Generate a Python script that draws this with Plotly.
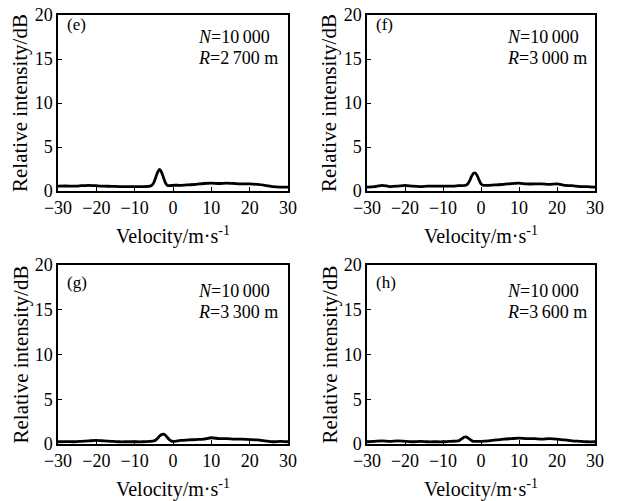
import plotly.graph_objects as go

W, H = 618, 501
OFF = 8  # default page body margin
FW, FH = W - OFF, H - OFF

# ---- data ----
vel_e = [-30,-28,-26,-24,-22,-20,-18,-16,-14,-12,-10,-8,-6,-5.5,-5,-4.5,-4,-3.5,-3,-2.5,-2,-1.5,-1,0,2,4,6,8,10,12,14,16,18,20,22,24,26,28,30]
int_e = [0.55,0.57,0.55,0.6,0.65,0.6,0.55,0.53,0.5,0.5,0.5,0.5,0.55,0.65,0.95,1.55,2.15,2.45,2.15,1.55,0.95,0.65,0.6,0.65,0.65,0.7,0.75,0.85,0.9,0.85,0.9,0.85,0.8,0.8,0.75,0.65,0.5,0.45,0.45]

vel_f = [-30,-28,-26,-24,-22,-20,-18,-16,-14,-12,-10,-8,-6,-4,-3.5,-3,-2.5,-2,-1.5,-1,-0.5,0,0.5,2,4,6,8,10,12,14,16,18,20,22,24,26,28,30]
int_f = [0.45,0.5,0.65,0.5,0.55,0.65,0.55,0.5,0.55,0.55,0.55,0.55,0.6,0.65,0.8,1.15,1.65,2.0,2.05,1.75,1.25,0.8,0.65,0.65,0.7,0.75,0.85,0.9,0.8,0.8,0.8,0.75,0.8,0.65,0.6,0.5,0.5,0.45]

vel_g = [-30,-28,-26,-24,-22,-20,-18,-16,-14,-12,-10,-8,-6,-5,-4.5,-4,-3.5,-3,-2.5,-2,-1.5,-1,-0.5,0,2,4,6,8,10,12,14,16,18,20,22,24,26,28,30]
int_g = [0.25,0.27,0.25,0.3,0.35,0.4,0.35,0.3,0.25,0.25,0.25,0.25,0.3,0.35,0.45,0.65,0.9,1.05,1.1,1.0,0.75,0.5,0.35,0.3,0.4,0.45,0.5,0.55,0.7,0.6,0.6,0.55,0.55,0.5,0.45,0.35,0.25,0.3,0.25]

vel_h = [-30,-28,-26,-24,-22,-20,-18,-16,-14,-12,-10,-8,-6,-5.5,-5,-4.5,-4,-3.5,-3,-2.5,-2,-1,0,2,4,6,8,10,12,14,16,18,20,22,24,26,28,30]
int_h = [0.25,0.3,0.35,0.3,0.35,0.3,0.25,0.3,0.25,0.25,0.25,0.3,0.35,0.45,0.6,0.75,0.8,0.7,0.55,0.4,0.3,0.3,0.3,0.35,0.45,0.55,0.6,0.65,0.6,0.6,0.55,0.6,0.55,0.45,0.35,0.3,0.25,0.25]

panel_labels = ["(e)", "(f)", "(g)", "(h)"]
ranges_m = ["2\u2009700", "3\u2009000", "3\u2009300", "3\u2009600"]
n_text = "10\u2009000"

x_ticks = [-30, -20, -10, 0, 10, 20, 30]
x_tick_text = ["\u221230", "\u221220", "\u221210", "0", "10", "20", "30"]
y_ticks = [0, 5, 10, 15, 20]

series = [(vel_e, int_e), (vel_f, int_f), (vel_g, int_g), (vel_h, int_h)]

# ---- layout geometry (page pixels) ----
boxes = [  # left, right, top, bottom
    (58, 288, 15, 191),
    (367, 595, 15, 191),
    (58, 288, 265, 444),
    (367, 595, 265, 444),
]
# y positions of (letter, N line, R line) for each panel
text_rows = [(25, 37, 58), (25, 37, 58), (282, 291, 312), (282, 291, 312)]

def px(x):
    return (x - OFF) / FW

def py(y):
    return 1 - (y - OFF) / FH

FONT = "Liberation Serif"

fig = go.Figure()
layout = dict(
    template="none",
    width=FW, height=FH, margin=dict(l=0, r=0, t=0, b=0, pad=0, autoexpand=False),
    paper_bgcolor="white", plot_bgcolor="white", showlegend=False,
    font=dict(family=FONT, size=18, color="black"),
)
annotations = []

def ann(text, x, y, size, xanchor="center", angle=0):
    annotations.append(dict(text=text, x=px(x), y=py(y), xref="paper", yref="paper",
                            showarrow=False, xanchor=xanchor, yanchor="middle", textangle=angle,
                            font=dict(size=size, family=FONT, color="black")))

for i, ((vx, vy), (l, r, t, b), (ly, ny, ry)) in enumerate(zip(series, boxes, text_rows)):
    k = "" if i == 0 else str(i + 1)
    fig.add_trace(go.Scatter(x=vx, y=vy, mode="lines", xaxis="x" + k, yaxis="y" + k,
                             line=dict(color="black", width=2.8, shape="spline", smoothing=0.6)))
    common = dict(ticks="inside", ticklen=4, tickwidth=1, tickcolor="black", showline=True,
                  linecolor="black", linewidth=1.5, mirror=True, showgrid=False, zeroline=False,
                  automargin=False, ticklabeloverflow="allow",
                  tickfont=dict(size=18, family=FONT, color="black"))
    layout["xaxis" + k] = dict(domain=[px(l), px(r)], anchor="y" + k, range=[-30, 30],
                               tickvals=x_ticks, ticktext=x_tick_text, **common)
    layout["yaxis" + k] = dict(domain=[py(b), py(t)], anchor="x" + k, range=[0, 20],
                               tickvals=y_ticks, **common)
    ann("Velocity/m\u00b7s<sup>-1</sup>", (l + r) / 2, b + 44, 20)
    ann("Relative intensity/dB", l - 38, (t + b) / 2, 21, angle=-90)
    ann(panel_labels[i], l + 7, ly, 17, xanchor="left")
    ann("<i>N</i>=" + n_text, l + 138, ny, 18, xanchor="left")
    ann("<i>R</i>=" + ranges_m[i] + " m", l + 138, ry, 18, xanchor="left")

layout["annotations"] = annotations
fig.update_layout(**layout)
fig.write_html("out.html")
